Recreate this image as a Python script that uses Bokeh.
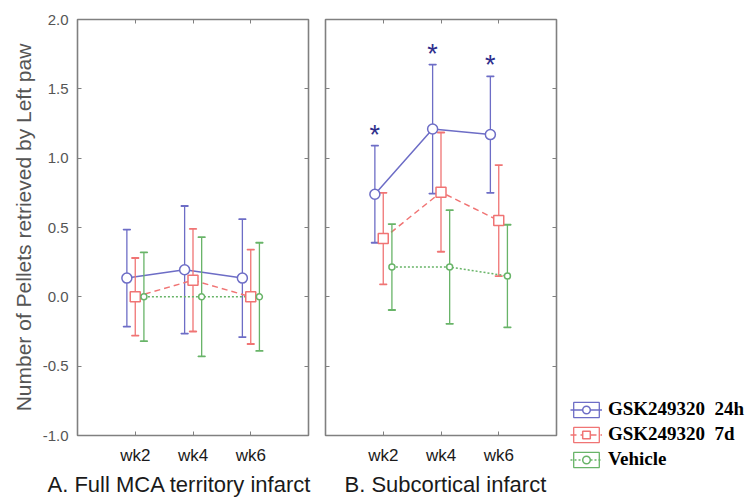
from bokeh.plotting import figure
from bokeh.models import (Range1d, LinearAxis, FixedTicker, PrintfTickFormatter,
                          Legend, LegendItem, ColumnDataSource)
from bokeh.layouts import row, column
from bokeh.embed import file_html
from bokeh.resources import INLINE
from bokeh.core.properties import value

# ---------------- data ----------------
weeks = ["wk2", "wk4", "wk6"]
week_pos = [1, 2, 3]
series_names = ["GSK249320  24h", "GSK249320  7d", "Vehicle"]
series_offsets = [-0.145, 0.0, 0.15]

# Panel A: Full MCA territory infarct
a_24h_mean = [0.135, 0.195, 0.135]
a_24h_err = [0.35, 0.46, 0.425]
a_7d_mean = [0.0, 0.12, 0.0]
a_7d_err = [0.28, 0.37, 0.34]
a_veh_mean = [0.0, 0.0, 0.0]
a_veh_err = [0.32, 0.43, 0.39]

# Panel B: Subcortical infarct
b_24h_mean = [0.74, 1.21, 1.17]
b_24h_err = [0.35, 0.465, 0.42]
b_7d_mean = [0.42, 0.755, 0.55]
b_7d_err = [0.33, 0.43, 0.40]
b_veh_mean = [0.215, 0.215, 0.15]
b_veh_err = [0.31, 0.41, 0.37]

# significance marks (panel B, GSK249320 24h)
b_sig = ["*", "*", "*"]

y_ticks = [-1.0, -0.5, 0.0, 0.5, 1.0, 1.5, 2.0]

# ---------------- styles ----------------
colors = ["#6d6dc6", "#f07474", "#68b468"]
dashes = ["solid", "6 4", "2 2"]
markers = ["circle", "square", "circle"]
msizes = [10, 10, 6]
frame_col = "#808080"
FONT = "Liberation Sans"
H = 500
TOP = 19
BOTTOM = 65


def style_fig(p, left_labels, title, title_offset):
    p.xgrid.visible = False
    p.ygrid.visible = False
    p.outline_line_color = frame_col
    p.outline_line_width = 1.6
    p.background_fill_color = "white"
    p.border_fill_color = "white"
    # panel title below the x axis
    p.title_location = "below"
    p.title.text = title
    p.title.align = "left"
    p.title.offset = title_offset
    p.title.standoff = 4
    p.title.text_font = FONT
    p.title.text_font_size = "22px"
    p.title.text_font_style = "normal"
    p.title.text_color = "#1a1a1a"
    # bottom axis
    xa = p.xaxis[0]
    xa.ticker = FixedTicker(ticks=week_pos)
    xa.major_label_overrides = {pos: w for pos, w in zip(week_pos, weeks)}
    xa.major_tick_in = 4
    xa.major_tick_out = 0
    xa.minor_tick_line_color = None
    xa.axis_line_color = None
    xa.major_tick_line_color = frame_col
    xa.major_label_standoff = 10
    xa.major_label_text_font = FONT
    xa.major_label_text_font_size = "17px"
    xa.major_label_text_color = "#1a1a1a"
    # left axis
    ya = p.yaxis[0]
    ya.ticker = FixedTicker(ticks=y_ticks)
    ya.formatter = PrintfTickFormatter(format="%.1f")
    ya.major_tick_in = 4
    ya.major_tick_out = 0
    ya.minor_tick_line_color = None
    ya.axis_line_color = None
    ya.major_tick_line_color = frame_col
    if left_labels:
        ya.major_label_standoff = 9
        ya.major_label_text_font = FONT
        ya.major_label_text_font_size = "15px"
        ya.major_label_text_color = "#555555"
    else:
        ya.major_label_overrides = {t: "" for t in y_ticks}
        ya.major_label_text_font_size = "1px"
        ya.major_label_standoff = 0
    # right and top axes (ticks only, pointing inwards)
    ra = LinearAxis(ticker=FixedTicker(ticks=y_ticks), major_tick_in=4, major_tick_out=0,
                    minor_tick_line_color=None, axis_line_color=None,
                    major_tick_line_color=frame_col,
                    major_label_overrides={t: "" for t in y_ticks},
                    major_label_text_font_size="1px", major_label_standoff=0)
    p.add_layout(ra, "right")
    ta = LinearAxis(ticker=FixedTicker(ticks=week_pos), major_tick_in=4, major_tick_out=0,
                    minor_tick_line_color=None, axis_line_color=None,
                    major_tick_line_color=frame_col,
                    major_label_overrides={t: "" for t in week_pos},
                    major_label_text_font_size="1px", major_label_standoff=0)
    p.add_layout(ta, "above")


def series_source(means, errs, idx):
    xs = [w + series_offsets[idx] for w in week_pos]
    lo = [m - e for m, e in zip(means, errs)]
    hi = [m + e for m, e in zip(means, errs)]
    return ColumnDataSource(dict(x=xs, y=means, lo=lo, hi=hi))


def draw_series(p, src, idx, bars=True):
    c = colors[idx]
    if bars:
        p.segment(x0="x", y0="lo", x1="x", y1="hi", source=src, line_color=c,
                  line_width=1.3)
        p.rect(x="x", y="lo", width=7, height=0.5, width_units="screen",
               height_units="screen", source=src, fill_alpha=0, line_color=c,
               line_width=1.3)
    cap_hi = p.rect(x="x", y="hi", width=7, height=0.5, width_units="screen",
                    height_units="screen", source=src, fill_alpha=0,
                    line_color=c, line_width=1.3)
    ln = p.line(x="x", y="y", source=src, line_color=c, line_width=1.5,
                line_dash=dashes[idx])
    return cap_hi, ln


def draw_markers(p, src, idx):
    return p.scatter(x="x", y="y", source=src, marker=markers[idx], size=msizes[idx],
                     fill_color="white", line_color=colors[idx], line_width=1.5)


# ---------------- panel A ----------------
p1 = figure(width=316, height=H, x_range=Range1d(0, 4), y_range=Range1d(-1, 2),
            output_backend="svg", toolbar_location=None,
            min_border_left=77, min_border_right=8, min_border_top=TOP,
            min_border_bottom=BOTTOM)
style_fig(p1, True, "A. Full MCA territory infarct", -30)
p1.yaxis[0].axis_label = "Number of Pellets retrieved by Left paw"
p1.yaxis[0].axis_label_text_font = FONT
p1.yaxis[0].axis_label_text_font_size = "21px"
p1.yaxis[0].axis_label_text_font_style = "normal"
p1.yaxis[0].axis_label_text_color = "#555555"
p1.yaxis[0].axis_label_standoff = 5

a_data = [(a_24h_mean, a_24h_err), (a_7d_mean, a_7d_err), (a_veh_mean, a_veh_err)]
a_srcs = [series_source(m, e, i) for i, (m, e) in enumerate(a_data)]
for i, s in enumerate(a_srcs):
    draw_series(p1, s, i)
for i, s in enumerate(a_srcs):
    draw_markers(p1, s, i)

# ---------------- panel B ----------------
p2 = figure(width=242, height=H, x_range=Range1d(0, 4), y_range=Range1d(-1, 2),
            output_backend="svg", toolbar_location=None,
            min_border_left=9, min_border_right=2, min_border_top=TOP,
            min_border_bottom=BOTTOM)
style_fig(p2, False, "B. Subcortical infarct", 19)

b_data = [(b_24h_mean, b_24h_err), (b_7d_mean, b_7d_err), (b_veh_mean, b_veh_err)]
b_srcs = [series_source(m, e, i) for i, (m, e) in enumerate(b_data)]
for i, s in enumerate(b_srcs):
    draw_series(p2, s, i)
for i, s in enumerate(b_srcs):
    draw_markers(p2, s, i)

# asterisks above the 24h error bars
sig_src = ColumnDataSource(dict(
    x=[w + series_offsets[0] for w in week_pos],
    y=[m + e for m, e in zip(b_24h_mean, b_24h_err)],
    t=b_sig))
p2.text(x="x", y="y", text="t", source=sig_src, text_align="center",
        text_baseline="alphabetic", y_offset=-11, text_font=value(FONT),
        text_font_size="27px", text_color="#2e2e8c")

# ---------------- legend panel ----------------
# a narrow canvas beside panel B that holds the legend; its renderers use the
# panel-B sources with a view range that lies outside the data
p3 = figure(width=188, height=H, x_range=Range1d(10, 11), y_range=Range1d(10, 11),
            output_backend="svg", toolbar_location=None,
            x_axis_location=None, y_axis_location=None,
            min_border_left=0, min_border_right=0, min_border_top=0, min_border_bottom=0)
p3.xgrid.visible = False
p3.ygrid.visible = False
p3.outline_line_color = None
p3.background_fill_color = "white"
p3.border_fill_color = "white"

items = []
for i, s in enumerate(b_srcs):
    cap_r, ln_r = draw_series(p3, s, i, bars=False)
    mk_r = draw_markers(p3, s, i)
    items.append(LegendItem(label=series_names[i], renderers=[cap_r, ln_r, mk_r]))

legend = Legend(items=items, location=(12, 30), border_line_color=None,
                background_fill_alpha=0, padding=0, margin=0, spacing=3,
                label_standoff=6, glyph_width=32, glyph_height=19, label_height=19,
                label_text_font="Liberation Serif", label_text_font_style="bold",
                label_text_font_size="19px", label_text_color="black")
p3.add_layout(legend)

layout = row(p1, p2, column(p3), spacing=0)
open("out.html", "w").write(file_html(layout, INLINE))
